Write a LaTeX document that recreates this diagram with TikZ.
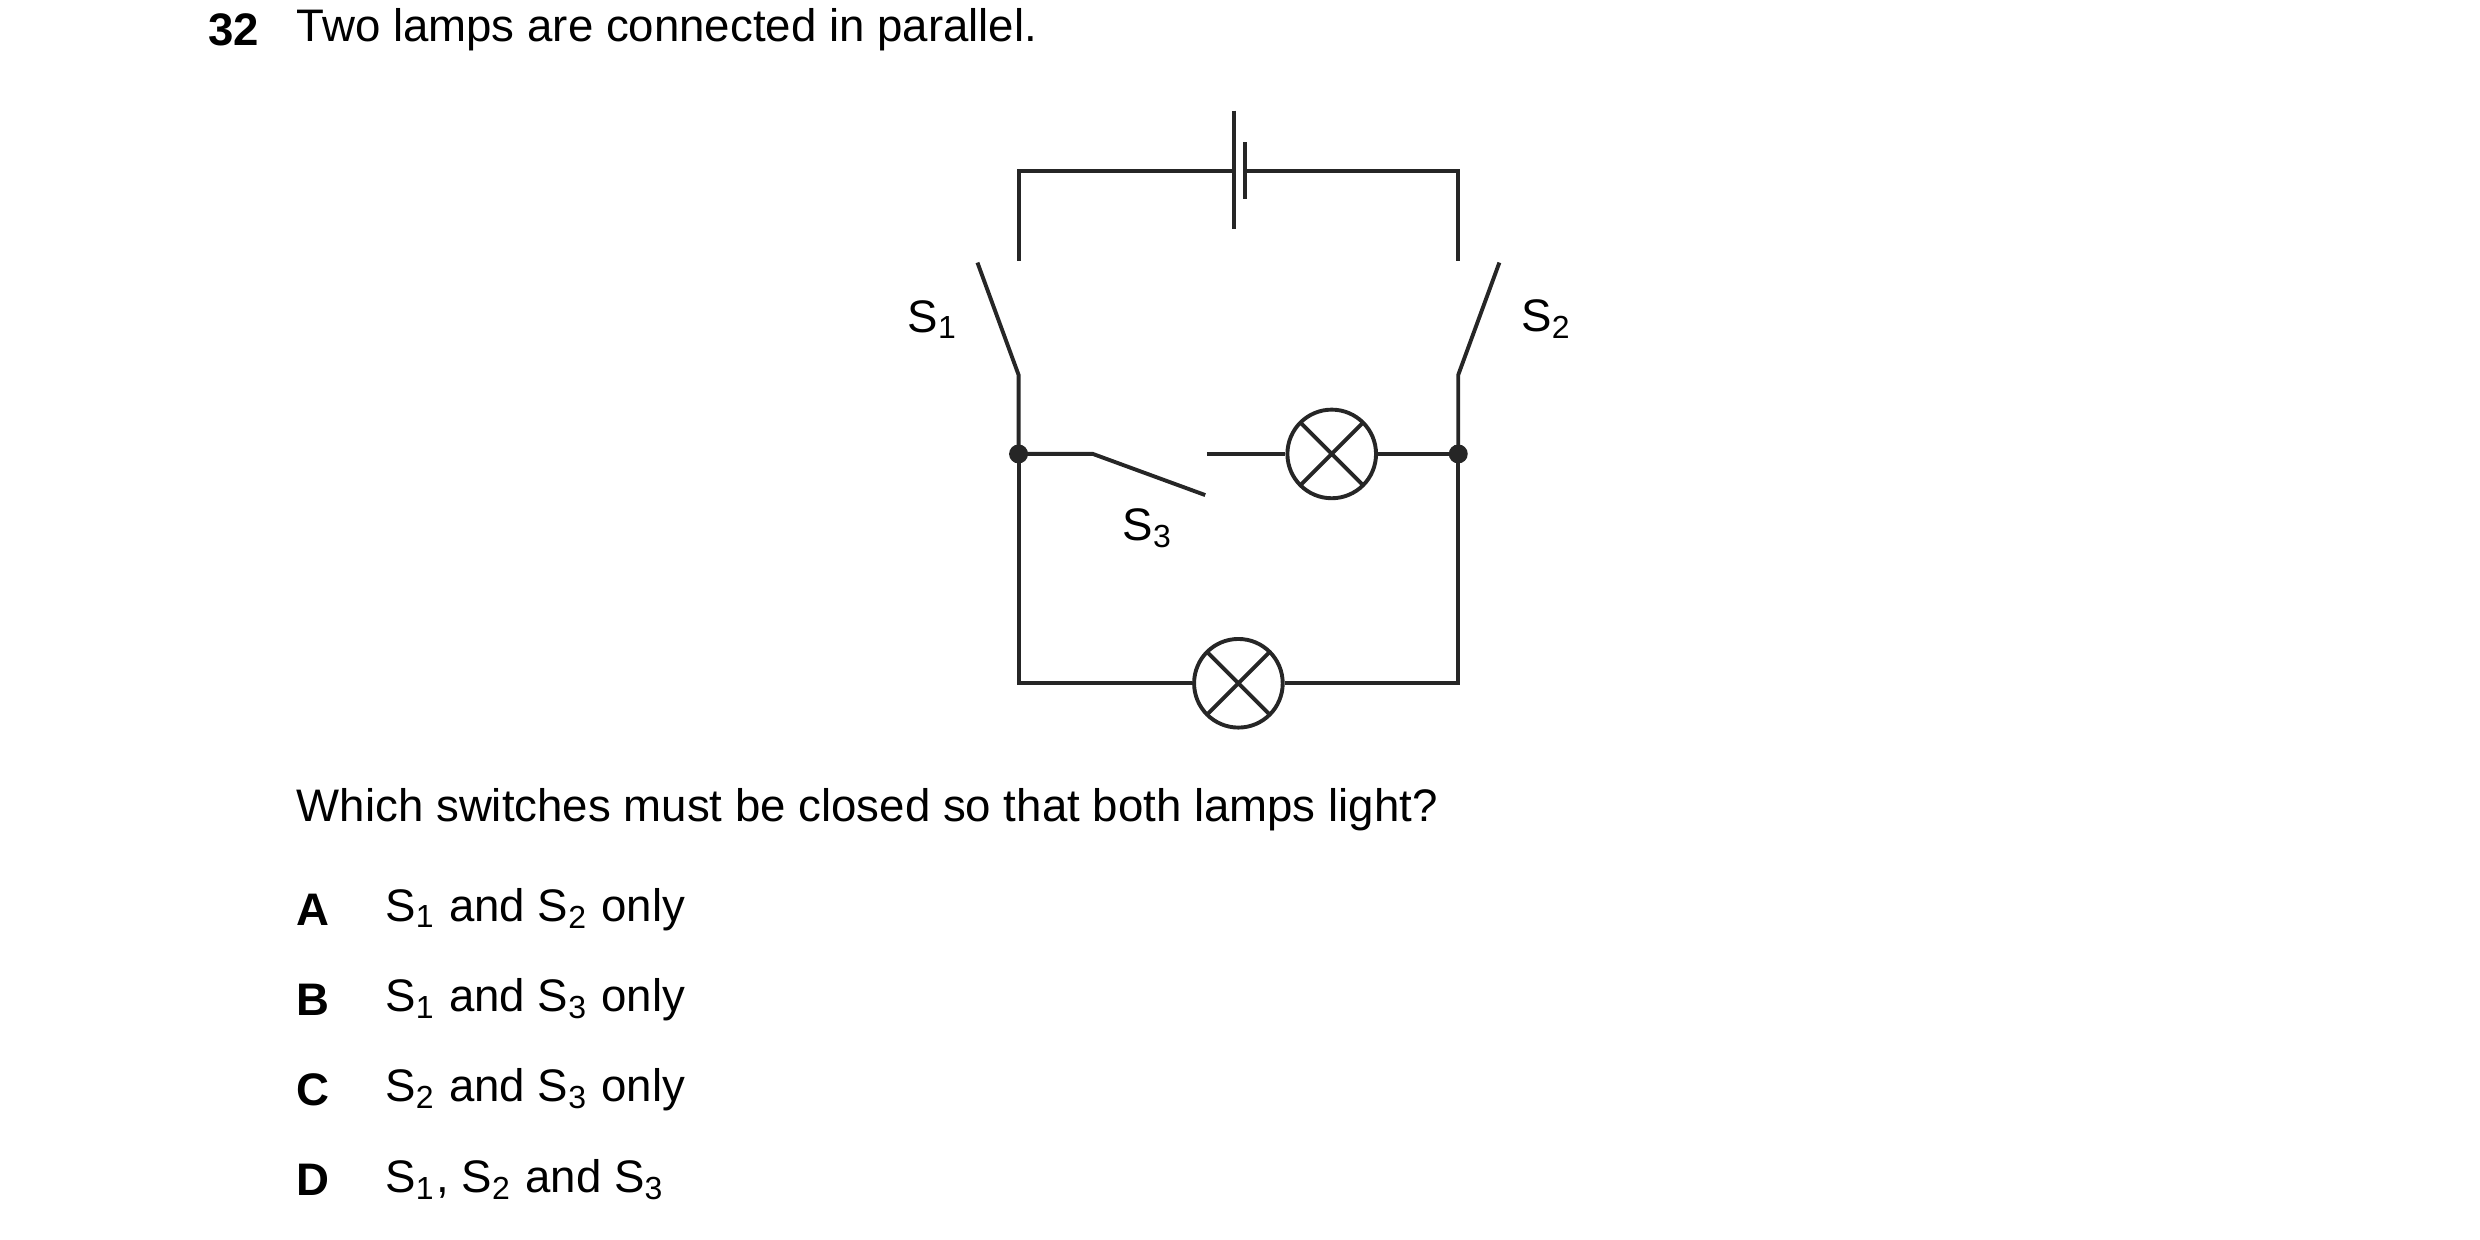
\documentclass[tikz,border=0pt]{standalone}
\usepackage{fontspec}
\setmainfont{Liberation Sans}
\usetikzlibrary{positioning}
\tikzset{
  wire/.style={line width=0.7pt, black!85},
  lamp/.style={circle, draw=black!85, line width=0.7pt, minimum size=0.56cm, inner sep=0pt,
    path picture={\draw[line width=0.7pt, black!85] (path picture bounding box.north west) -- (path picture bounding box.south east)
      (path picture bounding box.north east) -- (path picture bounding box.south west);}},
  txt/.style={anchor=west, inner sep=0pt, font=\fontsize{8.2}{10}\selectfont},
  lbl/.style={inner sep=0pt, font=\fontsize{8.2}{10}\selectfont}
}
\begin{document}
\begin{tikzpicture}[x=0.01cm, y=-0.01cm]
    \useasboundingbox (0,0) rectangle (1568,784);

    % question text
    \node[txt, font=\fontsize{8.2}{10}\selectfont\bfseries] (num) at (131,19) {32};
    \node[txt] (q) at (187,19) {Two lamps are connected in parallel.};

    % corners and junctions
    \coordinate (tl) at (644,108);
    \coordinate (tr) at (922,108);
    \coordinate (jl) at (644,287);
    \coordinate (jr) at (922,287);
    \coordinate (bl) at (644,432);
    \coordinate (br) at (922,432);

    % battery
    \draw[wire] (780,70) -- (780,145);
    \draw[wire] (787,90) -- (787,126);
    \draw[wire] (780,108) -- (tl) -- (644,165);
    \draw[wire] (787,108) -- (tr) -- (922,165);

    % switches S1 and S2
    \draw[wire] (618,166) -- (644,237) -- (jl);
    \draw[wire] (948,166) -- (922,237) -- (jr);
    \node[lbl] (s1) at (590,202) {S\textsubscript{1}};
    \node[lbl] (s2) at (978,202) {S\textsubscript{2}};

    % middle branch with S3
    \node[lamp] (lampA) at (842,287) {};
    \draw[wire] (jl) -- (691,287) -- (762,313);
    \draw[wire] (763,287) -- (lampA.west);
    \draw[wire] (lampA.east) -- (jr);
    \node[lbl] (s3) at (726,334) {S\textsubscript{3}};

    % bottom branch
    \node[lamp] (lampB) at (783,432) {};
    \draw[wire] (jl) -- (bl) -- (lampB.west);
    \draw[wire] (lampB.east) -- (br) -- (jr);

    \fill[black!85] (jl) circle (6) (jr) circle (6);

    % answers
    \node[txt] (ask) at (187,512) {Which switches must be closed so that both lamps light?};
    \node[txt, font=\fontsize{8.2}{10}\selectfont\bfseries] (la) at (187,575) {A};
    \node[txt] (ta) at (243,575) {S\textsubscript{1} and S\textsubscript{2} only};
    \node[txt, font=\fontsize{8.2}{10}\selectfont\bfseries] (lb) at (187,632) {B};
    \node[txt] (tb) at (243,632) {S\textsubscript{1} and S\textsubscript{3} only};
    \node[txt, font=\fontsize{8.2}{10}\selectfont\bfseries] (lc) at (187,689) {C};
    \node[txt] (tc) at (243,689) {S\textsubscript{2} and S\textsubscript{3} only};
    \node[txt, font=\fontsize{8.2}{10}\selectfont\bfseries] (ld) at (187,746) {D};
    \node[txt] (td) at (243,746) {S\textsubscript{1}, S\textsubscript{2} and S\textsubscript{3}};
\end{tikzpicture}
\end{document}
